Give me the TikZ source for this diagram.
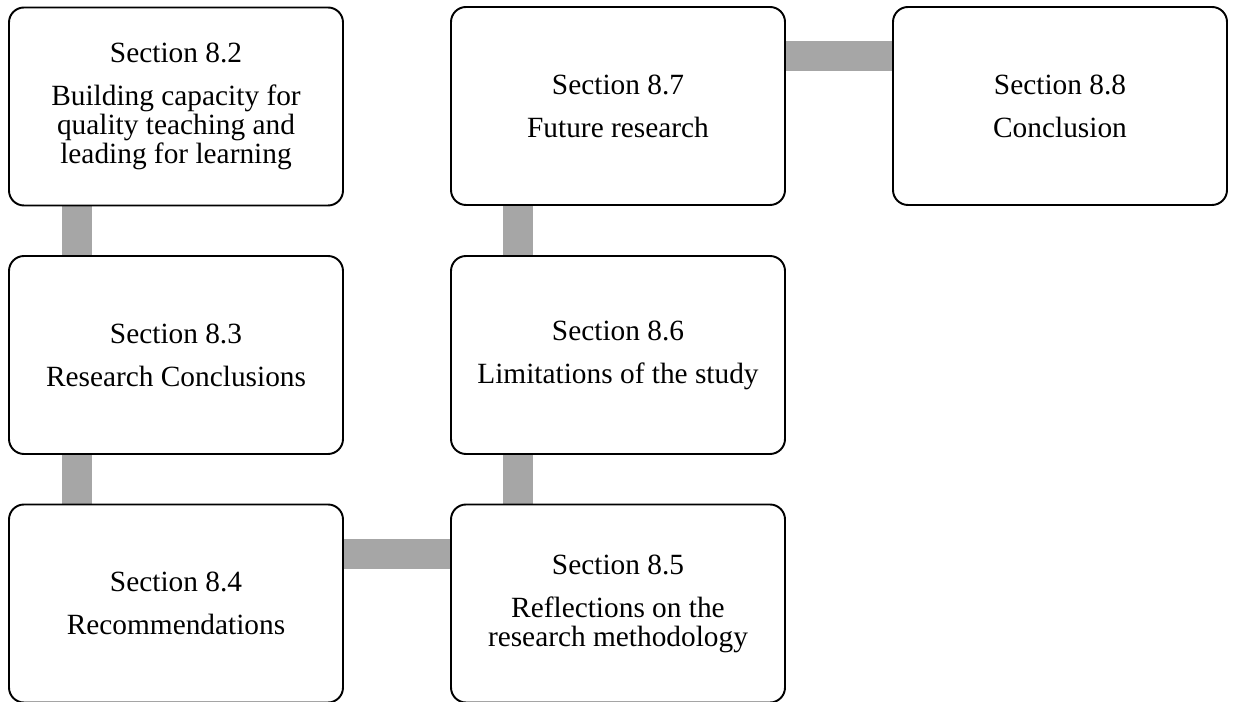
\documentclass[tikz,border=0pt]{standalone}
\usepackage{fontspec}
\setmainfont{Liberation Serif}
\usetikzlibrary{calc}
\usetikzlibrary{backgrounds}

\begin{document}
\begin{tikzpicture}[
  secbox/.style={draw=black,line width=1.1pt,fill=white,rounded corners=0.3cm,
    minimum width=6.68cm,minimum height=3.96cm,inner sep=0pt,outer sep=0pt,
    align=center,font=\fontsize{16.7}{16.5}\selectfont},
  link/.style={draw=black!35,line width=0.6cm,line cap=butt}]
\useasboundingbox (0,0) rectangle (24.7,-14.04);
\node[secbox] (s82) at (3.52,-2.13) {Section 8.2\\[0.28cm]Building capacity for\\quality teaching and\\leading for learning};
\node[secbox] (s83) at (3.52,-7.10) {Section 8.3\\[0.28cm]Research Conclusions};
\node[secbox] (s84) at (3.52,-12.07) {Section 8.4\\[0.28cm]Recommendations};
\node[secbox] (s85) at (12.36,-12.07) {Section 8.5\\[0.28cm]Reflections on the\\research methodology};
\node[secbox] (s86) at (12.36,-7.10) {Section 8.6\\[0.28cm]Limitations of the study};
\node[secbox] (s87) at (12.36,-2.12) {Section 8.7\\[0.28cm]Future research};
\node[secbox] (s88) at (21.20,-2.12) {Section 8.8\\[0.28cm]Conclusion};

\begin{scope}[on background layer]
\draw[link] ($(s82.south west)!0.204!(s82.south east)$) -- ($(s83.north west)!0.204!(s83.north east)$);
\draw[link] ($(s83.south west)!0.204!(s83.south east)$) -- ($(s84.north west)!0.204!(s84.north east)$);
\draw[link] ($(s84.north east)!0.25!(s84.south east)$) -- ($(s85.north west)!0.25!(s85.south west)$);
\draw[link] ($(s85.north west)!0.2!(s85.north east)$) -- ($(s86.south west)!0.2!(s86.south east)$);
\draw[link] ($(s86.north west)!0.2!(s86.north east)$) -- ($(s87.south west)!0.2!(s87.south east)$);
\draw[link] ($(s87.north east)!0.25!(s87.south east)$) -- ($(s88.north west)!0.25!(s88.south west)$);
\end{scope}

\end{tikzpicture}
\end{document}
